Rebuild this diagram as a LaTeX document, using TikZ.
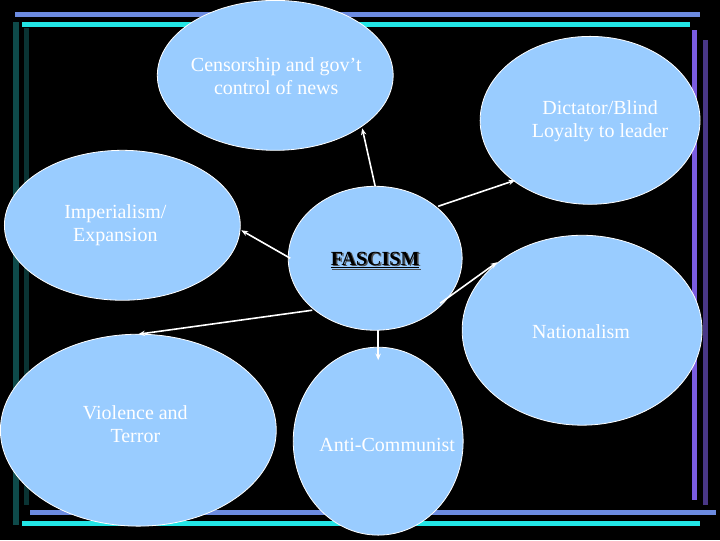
\documentclass[tikz,border=0pt]{standalone}
\usepackage{fontspec}
\setmainfont{Liberation Serif}
\definecolor{bub}{HTML}{99CCFF}
\definecolor{barb}{HTML}{6C8BE0}
\definecolor{barc}{HTML}{22E6E6}
\definecolor{teal}{HTML}{0E4A4A}
\definecolor{purp}{HTML}{7A5CE0}
\begin{document}
\begin{tikzpicture}[x=0.75pt,y=-0.75pt,
  bub/.style={ellipse,fill=bub,draw=white,line width=0.6pt,inner sep=0pt},
  lab/.style={text=white,font=\fontsize{15}{17}\selectfont,align=center},
  arr/.style={draw=white,line width=1.2pt,-{Stealth[length=5pt,width=4pt]}}]
\usetikzlibrary{shapes.geometric,arrows.meta}
\fill[black] (0,0) rectangle (720,540);
% frame
\fill[barb] (15,12) rectangle (700,17);
\fill[barc] (22,22) rectangle (690,27);
\fill[teal] (13,22) rectangle (19,525);
\fill[teal!70!black] (24,28) rectangle (29,505);
\fill[barb] (30,510) rectangle (716,515);
\fill[barc] (22,521) rectangle (700,526);
\fill[purp] (692,30) rectangle (697,500);
\fill[purp!60!black] (703,40) rectangle (708,505);
% ellipses
\draw[bub] (275,75) ellipse [x radius=118,y radius=75];
\draw[bub] (590,120) ellipse [x radius=110,y radius=84];
\draw[bub] (122,225) ellipse [x radius=118,y radius=75];
\draw[bub] (375,258) ellipse [x radius=87,y radius=72];
\draw[bub] (582,330) ellipse [x radius=120,y radius=95];
\draw[bub] (138,430) ellipse [x radius=138,y radius=96];
\draw[bub] (378,441) ellipse [x radius=85,y radius=94];
% labels
\node[lab] (cen) at (276,76) {Censorship and gov’t\\control of news};
\node[lab] (dic) at (600,121) {Dictator/Blind\\Loyalty to leader};
\node[lab] (imp) at (115,225) {Imperialism/\\Expansion};
\node[lab] (nat) at (581,331) {Nationalism};
\node[lab] (vio) at (135,424) {Violence and\\Terror};
\node[lab] (ant) at (387,445) {Anti-Communist};
\node[text=gray!60!black,font=\fontsize{15}{17}\selectfont\bfseries] at (376.5,261.5) {\underline{FASCISM}};
\node[text=black,font=\fontsize{15}{17}\selectfont\bfseries] (fas) at (375,260) {\underline{FASCISM}};
% arrow endpoints
\coordinate (s1) at (375,186); \coordinate (e1) at (362,128);
\coordinate (s2) at (438,206); \coordinate (e2) at (515,180);
\coordinate (s3) at (290,258); \coordinate (e3) at (241,230);
\coordinate (s4) at (312,310); \coordinate (e4) at (138,334);
\coordinate (s5) at (440,303); \coordinate (e5) at (497,262);
\coordinate (s6) at (378,330); \coordinate (e6) at (378,360);
\foreach \i in {1,...,6} \draw[arr] (s\i) -- (e\i);
\end{tikzpicture}
\end{document}
